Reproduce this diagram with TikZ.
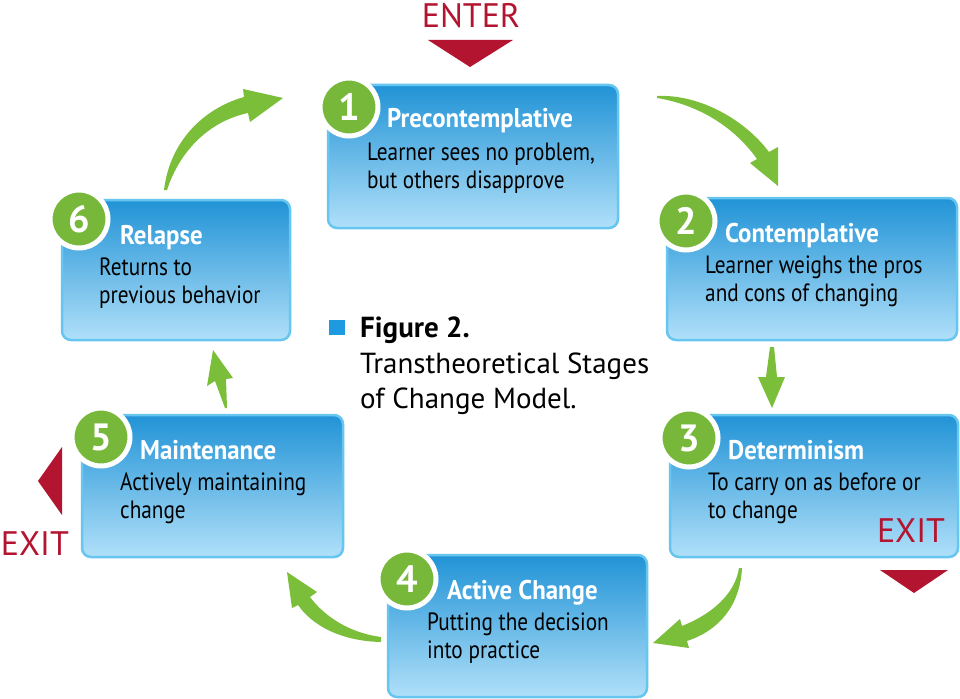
\documentclass[tikz,border=0pt]{standalone}
\usepackage{fontspec}
\setmainfont{PT Sans}
\newfontfamily\condfont{PT Sans}[FakeStretch=0.85]
\newfontfamily\titlefont{PT Sans}[FakeStretch=0.92]
\definecolor{boxtop}{HTML}{2193D6}
\definecolor{boxmid}{HTML}{5AB4E8}
\definecolor{boxbot}{HTML}{B0E0F9}
\definecolor{boxedge}{HTML}{66C6F0}
\definecolor{numgreen}{HTML}{77B83A}
\definecolor{arrgreen}{HTML}{7BBE3A}
\definecolor{exitred}{HTML}{B3142F}
\definecolor{capblue}{HTML}{1E9BE0}
\tikzset{
  stagebox/.style={draw=boxedge, line width=2.5pt, rounded corners=9pt,
    top color=boxtop, middle color=boxmid, bottom color=boxbot,
    inner sep=0pt, outer sep=0pt},
  numdisc/.style={circle, fill=numgreen, draw=white, line width=5pt,
    minimum size=58pt, inner sep=0pt, text=white,
    font=\bfseries\fontsize{38}{38}\selectfont},
  titletext/.style={anchor=base west, inner sep=0pt, text=white,
    font=\titlefont\bfseries\fontsize{27}{30}\selectfont},
  bodytext/.style={anchor=base west, inner sep=0pt, text=black,
    font=\condfont\fontsize{25}{28}\selectfont},
  redtext/.style={inner sep=0pt, text=exitred,
    font=\fontsize{34}{34}\selectfont},
  captext/.style={anchor=base west, inner sep=0pt, text=black,
    font=\fontsize{29}{30}\selectfont},
  greenarrow/.style={fill=arrgreen},
  redarrow/.style={fill=exitred}
}
\begin{document}
\begin{tikzpicture}[x=1pt,y=-1pt]
\useasboundingbox (0,0) rectangle (960,698);
\fill[white] (0,0) rectangle (960,698);

% ---- boxes ----
\node[stagebox, minimum width=290, minimum height=143] (b1) at (473,156.5) {};
\node[stagebox, minimum width=290, minimum height=142] (b2) at (812,269) {};
\node[stagebox, minimum width=288, minimum height=142] (b3) at (814,486) {};
\node[stagebox, minimum width=259, minimum height=142] (b4) at (517.5,626) {};
\node[stagebox, minimum width=261, minimum height=142] (b5) at (212.5,486) {};
\node[stagebox, minimum width=228, minimum height=140] (b6) at (176,270) {};

% ---- numbers ----
\node[numdisc] (n1) at (349,107) {1};
\node[numdisc] (n2) at (686,221) {2};
\node[numdisc] (n3) at (689,438) {3};
\node[numdisc] (n4) at (407,579) {4};
\node[numdisc] (n5) at (101,437) {5};
\node[numdisc] (n6) at (79,219) {6};

% ---- texts ----
\node[titletext] (t1) at (387,128) {Precontemplative};
\node[bodytext] (d1a) at (367,160) {Learner sees no problem,};
\node[bodytext] (d1b) at (367,188) {but others disapprove};

\node[titletext] (t2) at (725,242) {Contemplative};
\node[bodytext] (d2a) at (705,273) {Learner weighs the pros};
\node[bodytext] (d2b) at (705,301) {and cons of changing};

\node[titletext] (t3) at (728,459) {Determinism};
\node[bodytext] (d3a) at (708,490) {To carry on as before or};
\node[bodytext] (d3b) at (708,518) {to change};

\node[titletext] (t4) at (447,599) {Active Change};
\node[bodytext] (d4a) at (427,630) {Putting the decision};
\node[bodytext] (d4b) at (427,658) {into practice};

\node[titletext] (t5) at (140,459) {Maintenance};
\node[bodytext] (d5a) at (120,490) {Actively maintaining};
\node[bodytext] (d5b) at (120,518) {change};

\node[titletext] (t6) at (120,244) {Relapse};
\node[bodytext] (d6a) at (99,275) {Returns to};
\node[bodytext] (d6b) at (99,303) {previous behavior};

% ---- caption ----
\fill[capblue] (329,320) rectangle (345,335);
\node[captext, font=\bfseries\fontsize{29}{30}\selectfont] (c1) at (360,337) {Figure 2.};
\node[captext] (c2) at (360,373) {Transtheoretical Stages};
\node[captext] (c3) at (360,408) {of Change Model.};

% ---- enter / exit ----
\node[redtext] (enter) at (471,16) {ENTER};
\fill[redarrow] (428,40) -- (513,40) -- (470,67) -- cycle;
\node[redtext] (exitl) at (35,544) {EXIT};
\fill[redarrow] (62,447) -- (62,515) -- (38,481) -- cycle;
\node[redtext] (exitr) at (911,531) {EXIT};
\fill[redarrow] (880,570) -- (948,570) -- (914,593) -- cycle;

% ---- green arrows ----
% 1 -> 2
\fill[greenarrow] (657,96) .. controls (700,94) and (745,120) .. (769,152)
  -- (778,147) -- (778,186) -- (750,163) -- (757,159)
  .. controls (735,128) and (700,105) .. (657,98) -- cycle;
% 2 -> 3
\fill[greenarrow] (770,347) -- (774,347) -- (777,377) -- (785,377)
  -- (772,408) -- (758,377) -- (766,377) -- cycle;
% 3 -> 4
\fill[greenarrow] (742,568) .. controls (740,605) and (720,630) .. (687,641)
  -- (689,648) -- (653,643) -- (680,619) -- (682,626)
  .. controls (710,615) and (735,595) .. (739,568) -- cycle;
% 4 -> 5
\fill[greenarrow] (381,642) .. controls (340,641) and (312,625) .. (298,605)
  -- (292,608) -- (287,572) -- (317,592) -- (310,597)
  .. controls (325,617) and (350,633) .. (381,637) -- cycle;
% 5 -> 6
\fill[greenarrow] (225,408) -- (215,381) -- (207,386) -- (213,350)
  -- (233,378) -- (226,379) -- (227,408) -- cycle;
% 6 -> 1
\fill[greenarrow] (164,190) .. controls (170,140) and (205,108) .. (244,97)
  -- (243,89) -- (283,98) -- (250,122) -- (248,113)
  .. controls (210,121) and (180,150) .. (167,190) -- cycle;
\end{tikzpicture}
\end{document}
